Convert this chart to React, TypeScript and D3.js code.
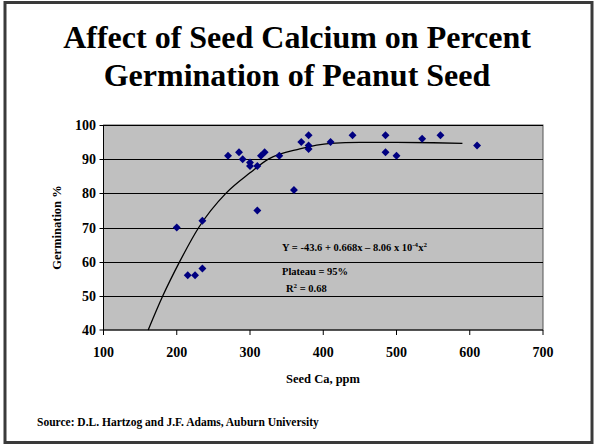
import React, { useEffect, useRef } from "react";
import * as d3 from "d3";

// seed calcium (ppm) vs percent germination
const seedCa = [200, 215, 225, 235, 235, 270, 285, 290, 300, 300, 310, 310, 315, 320, 340, 360, 370, 380, 380, 380, 410, 440, 485, 485, 500, 535, 560, 610];
const germination = [70, 56, 56, 58, 72, 91, 92, 90, 89, 88, 88, 75, 91, 92, 91, 81, 95, 97, 94, 93, 95, 97, 97, 92, 91, 96, 97, 94];

// fitted curve
const curveX = [161, 181, 204, 230, 267, 300, 325, 368, 410, 450, 500, 550, 590];
const curveY = [40, 50, 60, 70, 80, 86, 90, 93, 94.6, 94.9, 94.9, 94.8, 94.6];

const xTicks = [100, 200, 300, 400, 500, 600, 700];
const yTicks = [40, 50, 60, 70, 80, 90, 100];

const FONT = "Liberation Serif";

const App = () => {
  const svgRef = useRef(null);

  useEffect(() => {
    if (!svgRef.current) return;
    d3.select(svgRef.current).selectAll("*").remove();

    const width = 594;
    const height = 445;

    const svg = d3.select(svgRef.current)
      .attr("width", width)
      .attr("height", height)
      .attr("font-family", FONT)
      .attr("font-weight", "bold");

    // white slide with a dark frame
    svg.append("rect")
      .attr("width", width)
      .attr("height", height)
      .attr("fill", "white");
    svg.append("rect")
      .attr("x", 5)
      .attr("y", 2.5)
      .attr("width", 587)
      .attr("height", 440)
      .attr("fill", "none")
      .attr("stroke", "#3a3a3a")
      .attr("stroke-width", 3);

    // title
    const title = svg.append("text")
      .attr("text-anchor", "middle")
      .attr("font-size", 32)
      .attr("fill", "black");
    title.append("tspan").attr("x", 297).attr("y", 48).text("Affect of Seed Calcium on Percent");
    title.append("tspan").attr("x", 297).attr("y", 86).text("Germination of Peanut Seed");

    const x = d3.scaleLinear().domain([100, 700]).range([103.5, 543]);
    const y = d3.scaleLinear().domain([40, 100]).range([330, 125]);

    // plot area
    svg.append("rect")
      .attr("x", x(100))
      .attr("y", y(100))
      .attr("width", x(700) - x(100))
      .attr("height", y(40) - y(100))
      .attr("fill", "#c0c0c0")
      .attr("stroke", "#555")
      .attr("stroke-width", 1);

    // gridlines
    svg.append("g")
      .selectAll("line")
      .data(yTicks.filter(d => d > 40))
      .enter()
      .append("line")
      .attr("x1", x(100) - 4)
      .attr("x2", x(700))
      .attr("y1", d => Math.round(y(d)) + 0.5)
      .attr("y2", d => Math.round(y(d)) + 0.5)
      .attr("stroke", "black")
      .attr("stroke-width", 1);

    // axes lines
    svg.append("line")
      .attr("x1", x(100)).attr("x2", x(100))
      .attr("y1", y(100)).attr("y2", y(40))
      .attr("stroke", "black");
    svg.append("line")
      .attr("x1", x(100) - 4).attr("x2", x(700))
      .attr("y1", y(40)).attr("y2", y(40))
      .attr("stroke", "black");

    // x ticks + labels
    svg.append("g")
      .selectAll("line")
      .data(xTicks)
      .enter()
      .append("line")
      .attr("x1", d => x(d)).attr("x2", d => x(d))
      .attr("y1", y(40)).attr("y2", y(40) + 5)
      .attr("stroke", "black");
    svg.append("g")
      .selectAll("text")
      .data(xTicks)
      .enter()
      .append("text")
      .attr("x", d => x(d))
      .attr("y", 357)
      .attr("text-anchor", "middle")
      .attr("font-size", 14)
      .text(d => d);

    // y labels
    svg.append("g")
      .selectAll("text")
      .data(yTicks)
      .enter()
      .append("text")
      .attr("x", 96)
      .attr("y", d => y(d) + 5)
      .attr("text-anchor", "end")
      .attr("font-size", 14)
      .text(d => d);

    // axis titles
    svg.append("text")
      .attr("x", 323)
      .attr("y", 383)
      .attr("text-anchor", "middle")
      .attr("font-size", 12.5)
      .text("Seed Ca, ppm");
    svg.append("text")
      .attr("transform", `translate(61, ${y(70)}) rotate(-90)`)
      .attr("text-anchor", "middle")
      .attr("font-size", 12.5)
      .text("Germination %");

    // fitted curve
    const line = d3.line()
      .x(d => x(d[0]))
      .y(d => y(d[1]))
      .curve(d3.curveMonotoneX);
    svg.append("path")
      .datum(curveX.map((cx, i) => [cx, curveY[i]]))
      .attr("d", line)
      .attr("fill", "none")
      .attr("stroke", "black")
      .attr("stroke-width", 1.3);

    // diamond markers
    const diamond = d3.symbol().type(d3.symbolDiamond2).size(40);
    svg.append("g")
      .selectAll("path")
      .data(seedCa.map((cx, i) => [cx, germination[i]]))
      .enter()
      .append("path")
      .attr("d", diamond)
      .attr("transform", d => `translate(${x(d[0])}, ${y(d[1])})`)
      .attr("fill", "#000080");

    // equation annotations
    const eq = svg.append("text")
      .attr("x", 282)
      .attr("y", 250.5)
      .attr("font-size", 10.5);
    eq.append("tspan").text("Y = -43.6 + 0.668x \u2013 8.06 x 10");
    eq.append("tspan").attr("font-size", 7).attr("dy", -4).text("-4");
    eq.append("tspan").attr("dy", 4).text("x");
    eq.append("tspan").attr("font-size", 7).attr("dy", -4).text("2");

    svg.append("text")
      .attr("x", 282)
      .attr("y", 275)
      .attr("font-size", 10.5)
      .text("Plateau = 95%");
    const r2 = svg.append("text")
      .attr("x", 286)
      .attr("y", 291.5)
      .attr("font-size", 10.5);
    r2.append("tspan").text("R");
    r2.append("tspan").attr("font-size", 7).attr("dy", -4).text("2");
    r2.append("tspan").attr("dy", 4).text(" = 0.68");

    // source note
    svg.append("text")
      .attr("x", 37)
      .attr("y", 426)
      .attr("font-size", 11.5)
      .text("Source: D.L. Hartzog and J.F. Adams, Auburn University");
  }, []);

  return (
    <svg ref={svgRef} style={{ position: "absolute", left: 0, top: 0, display: "block" }}></svg>
  );
};

export default App;
